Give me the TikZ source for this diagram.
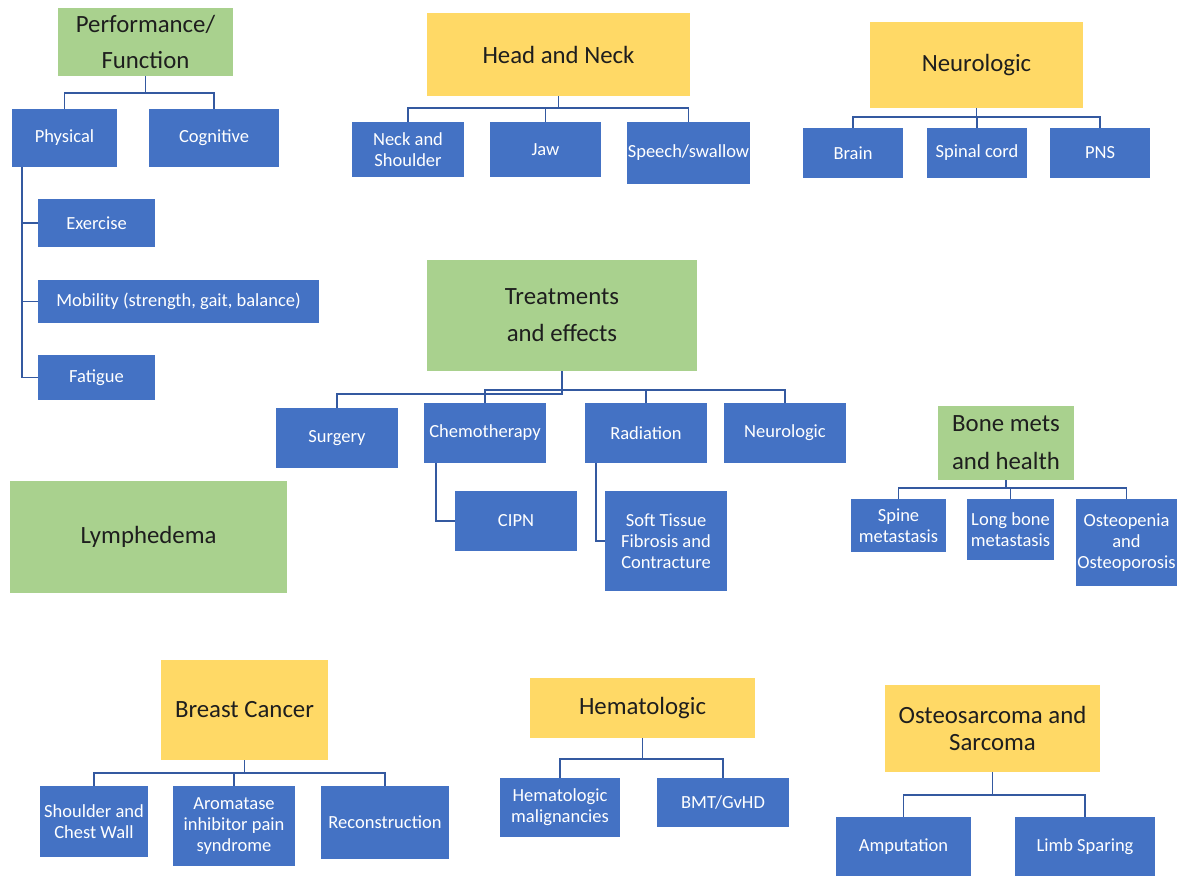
\documentclass[tikz,border=0pt]{standalone}
\usepackage{fontspec}
\setmainfont{Carlito}
\usetikzlibrary{calc}
\definecolor{bbox}{HTML}{4472C4}
\definecolor{gbox}{HTML}{A9D18E}
\definecolor{ybox}{HTML}{FFD966}
\definecolor{lcol}{HTML}{3459A0}
\definecolor{htxt}{HTML}{1E1E1E}
\tikzset{
  bx/.style={fill=bbox, text=white, inner sep=0pt, align=center, font=\fontsize{18.5}{21}\selectfont},
  gx/.style={fill=gbox, text=htxt, inner sep=0pt, align=center, font=\fontsize{24.8}{37}\selectfont},
  yx/.style={fill=ybox, text=htxt, inner sep=0pt, align=center, font=\fontsize{24.8}{27}\selectfont},
  conn/.style={draw=lcol, line width=1.6pt},
  sz/.style 2 args={minimum width=#1, minimum height=#2}
}
\begin{document}
\begin{tikzpicture}[x=1pt,y=-1pt]
\useasboundingbox (0,0) rectangle (1177,876);
% Performance / Function
\node[gx, sz={175pt}{68pt}, font=\fontsize{24.8}{36}\selectfont] (perf) at (145.5,42) {Performance/\\Function};
\node[bx, sz={105pt}{58pt}] (phys) at (64.5,138) {Physical};
\node[bx, sz={130pt}{58pt}] (cog) at (214,138) {Cognitive};
\node[bx, sz={117pt}{48pt}] (exer) at (96.5,223) {Exercise};
\node[bx, sz={281pt}{43pt}] (mob) at (178.5,301.5) {Mobility (strength, gait, balance)};
\node[bx, sz={117pt}{45pt}] (fat) at (96.5,377.5) {Fatigue};
\draw[conn] (perf.south) -- (perf.south |- 0,93) -| (phys.north);
\draw[conn] (perf.south |- 0,93) -| (cog.north);
\coordinate (physl) at ($(phys.south west)+(10,0)$);
\draw[conn] (physl) |- (fat.west);
\draw[conn] (physl) |- (exer.west);
\draw[conn] (physl) |- (mob.west);
% Head and Neck
\node[yx, sz={263pt}{83pt}] (hn) at (558.5,54.5) {Head and Neck};
\node[bx, sz={112pt}{55pt}] (neck) at (408,149.5) {Neck and\\Shoulder};
\node[bx, sz={111pt}{55pt}] (jaw) at (545.5,149.5) {Jaw};
\node[bx, sz={123pt}{62pt}] (speech) at (688.5,153) {Speech/swallow};
\draw[conn] (hn.south) -- (hn.south |- 0,108) -| (neck.north);
\draw[conn] (hn.south |- 0,108) -| (jaw.north);
\draw[conn] (hn.south |- 0,108) -| (speech.north);
% Neurologic
\node[yx, sz={213pt}{86pt}] (neuro) at (976.5,65) {Neurologic};
\node[bx, sz={100pt}{50pt}] (brain) at (853,153) {Brain};
\node[bx, sz={100pt}{50pt}] (spinal) at (977,153) {Spinal cord};
\node[bx, sz={100pt}{50pt}] (pns) at (1100,153) {PNS};
\draw[conn] (neuro.south) -- (neuro.south |- 0,117) -| (brain.north);
\draw[conn] (neuro.south |- 0,117) -| (spinal.north);
\draw[conn] (neuro.south |- 0,117) -| (pns.north);
% Treatments and effects
\node[gx, sz={270pt}{111pt}] (treat) at (562,315.5) {Treatments\\and effects};
\node[bx, sz={122pt}{60pt}] (surg) at (337,438) {Surgery};
\node[bx, sz={122pt}{60pt}] (chemo) at (485,433) {Chemotherapy};
\node[bx, sz={122pt}{60pt}] (rad) at (646,433) {Radiation};
\node[bx, sz={122pt}{60pt}] (neurot) at (785,433) {Neurologic};
\node[bx, sz={122pt}{60pt}] (cipn) at (516,521) {CIPN};
\node[bx, sz={122pt}{100pt}] (soft) at (666,541) {Soft Tissue\\Fibrosis and\\Contracture};
\draw[conn] (treat.south) -- (treat.south |- 0,394) -| (surg.north);
\draw[conn] (chemo.north) -- (chemo.north |- 0,390) -| (neurot.north);
\draw[conn] (rad.north) -- (rad.north |- 0,390);
\draw[conn] ($(chemo.south west)+(12,0)$) |- (cipn.west);
\draw[conn] ($(rad.south west)+(11,0)$) |- (soft.west);
% Lymphedema
\node[gx, sz={277pt}{112pt}] (lymph) at (148.5,537) {Lymphedema};
% Bone mets
\node[gx, sz={136pt}{74pt}, font=\fontsize{24.8}{38}\selectfont] (bone) at (1006,443) {Bone mets\\and health};
\node[bx, sz={95pt}{53pt}] (spine) at (898.5,525.5) {Spine\\metastasis};
\node[bx, sz={87pt}{61pt}] (longb) at (1010.5,529.5) {Long bone\\metastasis};
\node[bx, sz={101pt}{87pt}] (osteo) at (1126.5,542.5) {Osteopenia\\and\\Osteoporosis};
\draw[conn] (bone.south) -- (bone.south |- 0,488) -| (spine.north);
\draw[conn] (bone.south |- 0,488) -| (longb.north);
\draw[conn] (bone.south |- 0,488) -| (osteo.north);
% Breast Cancer
\node[yx, sz={167pt}{100pt}] (breast) at (244.5,710) {Breast Cancer};
\node[bx, sz={108pt}{71pt}] (shoulder) at (94,821.5) {Shoulder and\\Chest Wall};
\node[bx, sz={122pt}{80pt}] (arom) at (234,826) {Aromatase\\inhibitor pain\\syndrome};
\node[bx, sz={128pt}{73pt}] (recon) at (385,822.5) {Reconstruction};
\draw[conn] (breast.south) -- (breast.south |- 0,773) -| (shoulder.north);
\draw[conn] (breast.south |- 0,773) -| (arom.north);
\draw[conn] (breast.south |- 0,773) -| (recon.north);
% Hematologic
\node[yx, sz={225pt}{60pt}] (hema) at (642.5,708) {Hematologic};
\node[bx, sz={120pt}{59pt}] (hemam) at (560,807.5) {Hematologic\\malignancies};
\node[bx, sz={132pt}{49pt}] (bmt) at (723,802.5) {BMT/GvHD};
\draw[conn] (hema.south) -- (hema.south |- 0,759) -| (hemam.north);
\draw[conn] (hema.south |- 0,759) -| (bmt.north);
% Osteosarcoma
\node[yx, sz={215pt}{87pt}] (osteos) at (992.5,728.5) {Osteosarcoma and\\Sarcoma};
\node[bx, sz={135pt}{59pt}] (amp) at (903.5,846.5) {Amputation};
\node[bx, sz={140pt}{59pt}] (limb) at (1085,846.5) {Limb Sparing};
\draw[conn] (osteos.south) -- (osteos.south |- 0,795) -| (amp.north);
\draw[conn] (osteos.south |- 0,795) -| (limb.north);
\end{tikzpicture}
\end{document}
